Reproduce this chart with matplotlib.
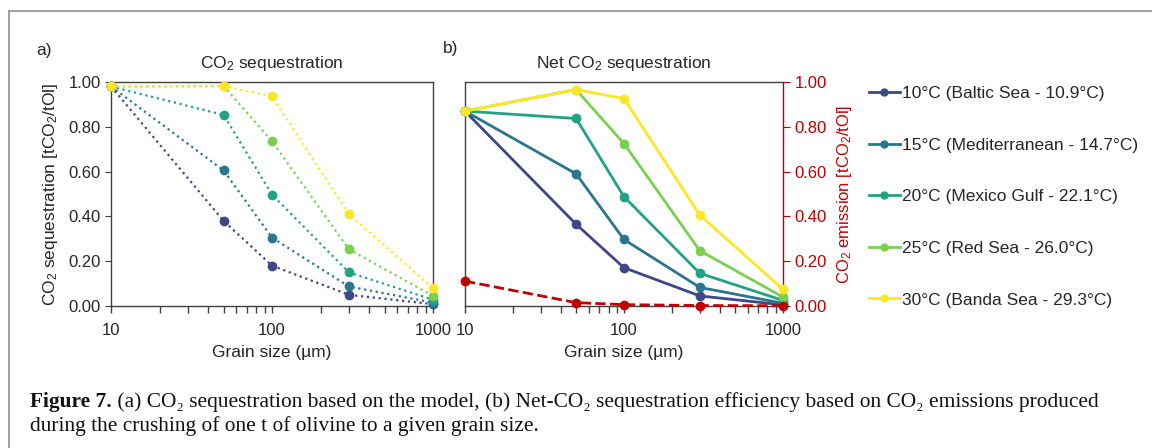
import matplotlib
matplotlib.use("Agg")
import matplotlib.pyplot as plt
from matplotlib.lines import Line2D
from matplotlib.ticker import FixedLocator, LogLocator, NullFormatter

plt.rcParams['font.family'] = ['Liberation Sans', 'DejaVu Sans']
plt.rcParams['mathtext.fontset'] = 'custom'
plt.rcParams['mathtext.rm'] = 'Liberation Sans'
plt.rcParams['mathtext.default'] = 'regular'

# grain size in micrometres
grain = [10, 50, 100, 300, 1000]

labels = ['10°C (Baltic Sea - 10.9°C)',
          '15°C (Mediterranean - 14.7°C)',
          '20°C (Mexico Gulf - 22.1°C)',
          '25°C (Red Sea - 26.0°C)',
          '30°C (Banda Sea - 29.3°C)']
colors = ['#404788', '#2a768e', '#22a284', '#7ad151', '#fde725']

# (a) CO2 sequestration [tCO2/tOl]
seq_10 = [0.98, 0.38, 0.18, 0.05, 0.008]
seq_15 = [0.98, 0.605, 0.305, 0.087, 0.015]
seq_20 = [0.98, 0.853, 0.497, 0.15, 0.028]
seq_25 = [0.98, 0.982, 0.735, 0.253, 0.045]
seq_30 = [0.98, 0.982, 0.936, 0.41, 0.079]

# (b) net CO2 sequestration [tCO2/tOl]
net_10 = [0.87, 0.365, 0.171, 0.045, 0.005]
net_15 = [0.87, 0.59, 0.297, 0.083, 0.012]
net_20 = [0.87, 0.837, 0.488, 0.146, 0.025]
net_25 = [0.87, 0.966, 0.725, 0.247, 0.04]
net_30 = [0.87, 0.966, 0.926, 0.406, 0.074]

# CO2 emission from crushing [tCO2/tOl]
emission = [0.111, 0.015, 0.006, 0.002, 0.001]

yticks = [0, 0.2, 0.4, 0.6, 0.8, 1.0]
ytick_labels = ['0.00', '0.20', '0.40', '0.60', '0.80', '1.00']

seq_all = [seq_10, seq_15, seq_20, seq_25, seq_30]
net_all = [net_10, net_15, net_20, net_25, net_30]

txt = '#262626'
spine_c = '#404040'
red = '#c00000'
fs = 12
ms = 6

fig = plt.figure(figsize=(11.52, 4.48), dpi=100)
ax1 = fig.add_axes([0.0964, 0.317, 0.2795, 0.5])
ax2 = fig.add_axes([0.4036, 0.317, 0.276, 0.5])


def style_x(ax):
    ax.set_xscale('log')
    ax.set_xlim(10, 1000)
    ax.xaxis.set_major_locator(FixedLocator([10, 100, 1000]))
    ax.set_xticklabels(['10', '100', '1000'])
    ax.xaxis.set_minor_locator(LogLocator(base=10, subs=range(2, 10)))
    ax.xaxis.set_minor_formatter(NullFormatter())
    ax.tick_params(axis='x', which='both', direction='out', length=5,
                   width=1, color=spine_c, labelsize=fs, labelcolor=txt, pad=7)
    ax.set_xlabel('Grain size (µm)', fontsize=12.5, color=txt, labelpad=5)
    ax.set_ylim(0, 1.0)
    ax.set_yticks(yticks)
    ax.set_yticklabels(ytick_labels)
    for s in ax.spines.values():
        s.set_color(spine_c)
        s.set_linewidth(1)


# panel a
for y, c in zip(seq_all, colors):
    ax1.plot(grain, y, color=c, linestyle=':', linewidth=1.6,
             marker='o', markersize=ms, clip_on=False, zorder=3)
style_x(ax1)
ax1.tick_params(axis='y', direction='out', length=4, color=spine_c,
                labelsize=fs, labelcolor=txt)
ax1.set_ylabel('CO$_2$ sequestration [tCO$_2$/tOl]', fontsize=12.5, color=txt, labelpad=6)
ax1.set_title('CO$_2$ sequestration', fontsize=12.5, color=txt, pad=10)

# panel b
for y, c in zip(net_all, colors):
    ax2.plot(grain, y, color=c, linewidth=2, marker='o', markersize=ms,
             clip_on=False, zorder=3)
ax2.plot(grain, emission, color=red, linestyle='--', linewidth=2,
         marker='o', markersize=ms, clip_on=False, zorder=4)
style_x(ax2)
ax2.yaxis.tick_right()
ax2.yaxis.set_label_position('right')
ax2.tick_params(axis='y', direction='out', length=5, color=red,
                labelsize=fs, labelcolor=red)
ax2.spines['right'].set_color(red)
ax2.set_ylabel('CO$_2$ emission [tCO$_2$/tOl]', fontsize=12, color=red, labelpad=6)
ax2.set_title('Net CO$_2$ sequestration', fontsize=12.5, color=txt, pad=10)

# legend
handles = [Line2D([], [], color=c, linewidth=2, marker='o', markersize=5) for c in colors]
fig.legend(handles, labels, loc='upper left', bbox_to_anchor=(0.7405, 0.843),
           frameon=False, fontsize=12.5, labelspacing=2.1, handlelength=1.8,
           handletextpad=0.1, labelcolor=txt)

# panel letters
fig.text(36 / 1152, 1 - 50 / 448, 'a)', fontsize=12.5, color=txt, va='center')
fig.text(443 / 1152, 1 - 48 / 448, 'b)', fontsize=12.5, color=txt, va='center')

# page frame
fig.add_artist(Line2D([0.008, 1.0], [0.975, 0.975], color='#999999', linewidth=1.3))
fig.add_artist(Line2D([0.008, 0.008], [0.0, 0.975], color='#999999', linewidth=1.3))

# caption
cap_fs = 15.4
serif = ['Liberation Serif', 'DejaVu Serif']
cap_x = 30 / 1152
t1 = fig.text(cap_x, 1 - 407 / 448, 'Figure 7.', fontsize=cap_fs, family=serif,
              weight='bold', color='#111111', va='baseline')
fig.canvas.draw()
bb = t1.get_window_extent().transformed(fig.transFigure.inverted())
fig.text(bb.x1, 1 - 407 / 448,
         ' (a) CO\u2082 sequestration based on the model, (b) Net-CO\u2082 sequestration '
         'efficiency based on CO\u2082 emissions produced',
         fontsize=cap_fs, family=serif, color='#111111', va='baseline')
fig.text(cap_x, 1 - 431 / 448, 'during the crushing of one t of olivine to a given grain size.',
         fontsize=cap_fs, family=serif, color='#111111', va='baseline')

fig.savefig('out.png', dpi=100)
